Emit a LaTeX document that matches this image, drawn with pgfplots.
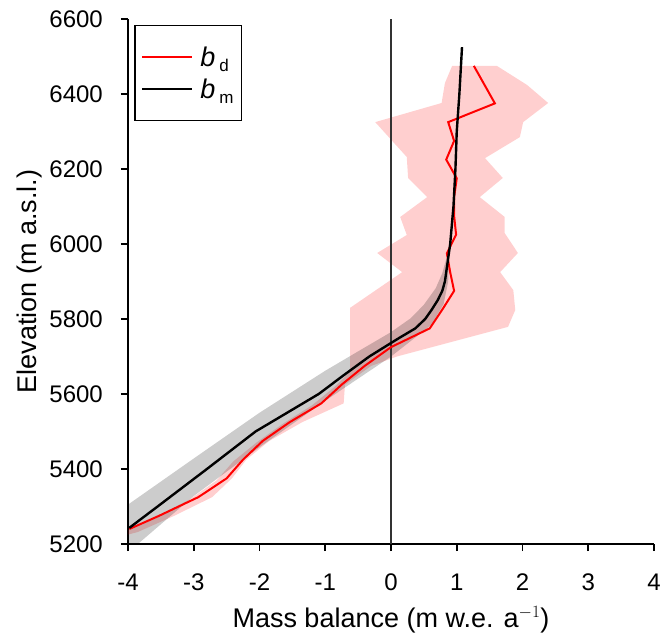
\documentclass[border=0pt]{standalone}
\usepackage{pgfplots}
\pgfplotsset{compat=1.18}
\usepackage{fontspec}
\setmainfont{Liberation Sans}
\newcommand{\legb}[1]{\hspace{5pt}{\fontsize{27}{30}\selectfont\textit{b}}\hspace{4pt}\raisebox{-5pt}{\fontsize{17}{19}\selectfont #1}\hspace{14pt}}
\begin{document}
\begin{tikzpicture}
\begin{axis}[
  name=ax,
  scale only axis, width=526pt, height=525pt,
  xmin=-4, xmax=4, ymin=5200, ymax=6600,
  axis x line=bottom, axis y line=left,
  axis line style={line width=1.6pt, -},
  xtick={-4,-3,...,4}, ytick={5200,5400,...,6600},
  tick align=outside, major tick length=7pt,
  tick style={line width=1.6pt, black},
  scaled y ticks=false,
  /pgf/number format/assume math mode=true,
  /pgf/number format/1000 sep={},
  tick label style={font=\fontsize{24}{28}\selectfont},
  xticklabel style={anchor=base, inner sep=0pt, yshift=-39pt},
  yticklabel style={anchor=east, inner sep=0pt, xshift=-18pt},
  xlabel={Mass balance (m w.e. a$^{-1}$)},
  ylabel={Elevation (m a.s.l.)},
  label style={font=\fontsize{27}{32}\selectfont, inner sep=0pt},
  xlabel style={at={(axis description cs:0.5,0)}, anchor=base, yshift=-83pt},
  ylabel style={at={(axis description cs:0,0.5)}, anchor=base, yshift=91pt},
  legend style={at={(0.012,0.989)}, anchor=north west, draw=black, line width=1.4pt,
    inner xsep=6pt, inner ysep=19pt, row sep=7pt,
    font=\fontsize{24}{28}\selectfont,
    cells={anchor=west}},
  legend image code/.code={\draw[#1] (0pt,0pt) -- (50pt,0pt);},
]
% pink uncertainty band of b_d
\addplot[draw=none, fill=red, fill opacity=0.19, forget plot] coordinates {
(0.93,6475) (1.61,6475) (2.07,6424) (2.39,6376) (2.01,6325) (1.96,6285)
(1.43,6229) (1.70,6176) (1.35,6125) (1.73,6072) (1.73,6029) (1.93,5976)
(1.66,5925) (1.86,5877) (1.89,5824) (1.78,5779) (0.09,5700) (-0.30,5675)
(-0.70,5625) (-0.72,5575) (-1.35,5525) (-1.85,5475) (-2.20,5425) (-2.42,5375)
(-2.72,5325) (-3.30,5275) (-3.85,5232) (-4.0,5225) (-4.0,5238)
(-3.60,5270) (-3.05,5320) (-2.65,5370) (-2.40,5420) (-2.05,5470) (-1.65,5520)
(-1.20,5570) (-0.85,5620) (-0.62,5660) (-0.62,5830) (0.17,5925) (-0.21,5976)
(0.24,6024) (0.14,6072) (0.55,6125) (0.26,6176) (0.24,6232) (-0.24,6325)
(0.77,6376) (0.82,6429) } -- cycle;
% grey uncertainty band of b_m
\addplot[draw=none, fill=black, fill opacity=0.2, forget plot] coordinates {
(-4.0,5305) (-3.0,5428) (-2.0,5550) (-1.0,5662) (-0.4,5724) (0.0,5765)
(0.3,5802) (0.5,5838) (0.68,5882) (0.78,5922) (0.84,5960)
(0.88,5960) (0.87,5900) (0.80,5840) (0.62,5785) (0.40,5755) (0.0,5700)
(-1.0,5582) (-2.0,5458) (-3.0,5328) (-3.85,5200) (-4.0,5200) } -- cycle;
% zero line
\addplot[line width=1.5pt, color=black!80, forget plot] coordinates {(0,5200) (0,6600)};
% b_d
\addplot[color=red, line width=2pt] coordinates {
(-3.98,5240) (-3.53,5275) (-2.93,5325) (-2.50,5375) (-2.25,5425) (-1.95,5475)
(-1.54,5525) (-1.06,5575) (-0.75,5625) (-0.40,5675) (0.0,5725) (0.59,5775)
(0.78,5825) (0.96,5875) (0.90,5925) (0.85,5975) (0.99,6025) (0.96,6075)
(0.96,6125) (1.0,6175) (0.84,6225) (0.96,6275) (0.87,6325) (1.58,6375)
(1.42,6425) (1.26,6475) };
\addlegendentry{\legb{d}}
% b_m
\addplot[color=black, line width=2.4pt] coordinates {
(-3.98,5243) (-3.55,5300) (-2.80,5400) (-2.06,5500) (-1.10,5600) (-0.72,5650)
(-0.33,5700) (0.0,5736) (0.13,5750) (0.37,5775) (0.52,5800) (0.62,5825)
(0.71,5850) (0.78,5875) (0.82,5900) (0.86,5950) (0.90,6000) (0.95,6100)
(0.98,6200) (1.00,6300) (1.04,6400) (1.08,6525) };
\addlegendentry{\legb{m}}
\end{axis}
\path ([xshift=-128pt,yshift=-95pt]ax.south west) rectangle ([xshift=8pt,yshift=19pt]ax.north east);
\end{tikzpicture}
\end{document}
